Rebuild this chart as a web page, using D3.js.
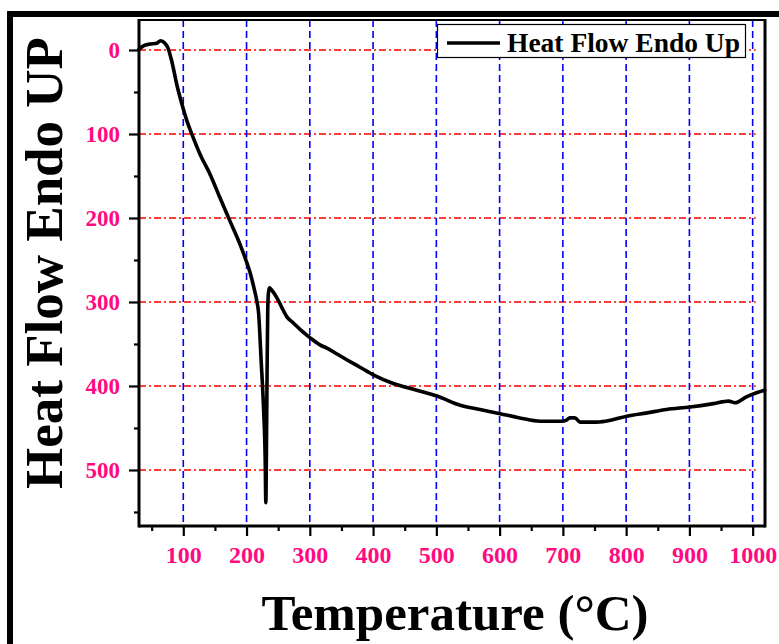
<!DOCTYPE html>
<html>
<head>
<meta charset="utf-8">
<script src="https://cdn.jsdelivr.net/npm/d3@7/dist/d3.min.js"></script>
<style>
  html, body { margin: 0; padding: 0; background: #fff; }
  svg { display: block; }
  text { font-family: "Liberation Serif", "Times New Roman", serif; font-weight: bold; }
</style>
</head>
<body>
<svg id="chart" width="779" height="644"></svg>
<script>
// DSC trace: temperature (°C) and heat flow
const temperature = [30, 37, 47, 58, 64, 71, 76, 82, 90, 98, 106, 114, 127, 143, 158, 174, 190, 198, 206, 212, 216, 219, 223, 227, 229.5, 230.5,
  231.5, 232.5, 233.5, 234.5, 236, 240, 248, 256, 264, 274, 285, 301, 316, 327, 343, 359, 380, 401, 432, 469, 501, 538, 569, 601,
  632, 664, 698, 705, 711, 719, 727, 753, 780, 801, 833, 864, 901, 938, 962, 972, 990, 1006, 1019];
const heatFlow = [-1, -5, -7, -8, -11, -8, -2, 14, 42, 65, 85, 101, 125, 149, 176, 204, 232, 248, 266, 284, 298, 313, 369, 429, 488, 539,
  470, 380, 310, 290, 283, 286, 295, 307, 318, 325, 333, 343, 351, 355, 362, 369, 378, 387, 397, 405, 412, 423, 428, 433,
  438, 442, 442, 441, 438, 438, 443, 443, 440, 436, 432, 428, 425, 421, 418, 420, 413, 408, 405];

const xMajorTicks = [100, 200, 300, 400, 500, 600, 700, 800, 900, 1000];
const xMinorTicks = [50, 150, 250, 350, 450, 550, 650, 750, 850, 950];
const yMajorTicks = [0, 100, 200, 300, 400, 500];
const yMinorTicks = [50, 150, 250, 350, 450, 550];

const xTitle = "Temperature (\u00B0C)";
const yTitle = "Heat Flow Endo UP";
const seriesName = "Heat Flow Endo Up";

const tickColor = "#ff0a80";
const svg = d3.select("#chart");

const plot = { left: 139, right: 765, top: 20, bottom: 526 };
const x = d3.scaleLinear().domain([30, 1019.5]).range([plot.left, plot.right]);
const y = d3.scaleLinear().domain([-35.7, 566.7]).range([plot.top, plot.bottom]);

// outer frame
svg.append("line").attr("x1", 7).attr("x2", 779).attr("y1", 14).attr("y2", 14)
  .attr("stroke", "#000").attr("stroke-width", 6);
svg.append("line").attr("x1", 10).attr("x2", 10).attr("y1", 11).attr("y2", 644)
  .attr("stroke", "#000").attr("stroke-width", 6);

// grid
svg.append("g").selectAll("line").data(yMajorTicks).join("line")
  .attr("x1", plot.left).attr("x2", x(1000) + 3)
  .attr("y1", d => y(d)).attr("y2", d => y(d))
  .attr("stroke", "#ff0000").attr("stroke-width", 1.6)
  .attr("stroke-dasharray", "7,3,2,3");
svg.append("g").selectAll("line").data(xMajorTicks).join("line")
  .attr("x1", d => x(d)).attr("x2", d => x(d))
  .attr("y1", plot.top).attr("y2", plot.bottom)
  .attr("stroke", "#0000ff").attr("stroke-width", 1.6)
  .attr("stroke-dasharray", "7,4");

// axes
function styleAxis(g) {
  g.select(".domain").remove();
  g.selectAll(".tick line").attr("stroke", "#000").attr("stroke-width", 2.2);
  g.selectAll(".tick text").attr("fill", tickColor);
}
svg.append("g").attr("transform", `translate(${plot.left},0)`)
  .call(d3.axisLeft(y).tickValues(yMajorTicks).tickSize(10).tickPadding(9).tickFormat(d3.format("d")))
  .call(styleAxis)
  .selectAll("text").style("font-size", "23px");
svg.append("g").attr("transform", `translate(${plot.left},0)`)
  .call(d3.axisLeft(y).tickValues(yMinorTicks).tickSize(5).tickFormat(""))
  .call(styleAxis);
svg.append("g").attr("transform", `translate(0,${plot.bottom})`)
  .call(d3.axisBottom(x).tickValues(xMajorTicks).tickSize(10).tickPadding(10).tickFormat(d3.format("d")))
  .call(styleAxis)
  .selectAll("text").style("font-size", "24px");
svg.append("g").attr("transform", `translate(0,${plot.bottom})`)
  .call(d3.axisBottom(x).tickValues(xMinorTicks).tickSize(5).tickFormat(""))
  .call(styleAxis);

// plot frame
svg.append("line").attr("x1", plot.left).attr("x2", plot.right).attr("y1", plot.top).attr("y2", plot.top)
  .attr("stroke", "#000").attr("stroke-width", 2);
svg.append("line").attr("x1", plot.left).attr("x2", plot.left).attr("y1", plot.top - 1).attr("y2", plot.bottom + 1.5)
  .attr("stroke", "#000").attr("stroke-width", 3);
svg.append("line").attr("x1", plot.right).attr("x2", plot.right).attr("y1", plot.top - 1).attr("y2", plot.bottom + 1.5)
  .attr("stroke", "#000").attr("stroke-width", 3);
svg.append("line").attr("x1", plot.left).attr("x2", plot.right).attr("y1", plot.bottom).attr("y2", plot.bottom)
  .attr("stroke", "#000").attr("stroke-width", 3);

// curve
const points = temperature.map((t, i) => [t, heatFlow[i]]);
svg.append("path").datum(points)
  .attr("fill", "none").attr("stroke", "#000").attr("stroke-width", 3.6)
  .attr("stroke-linejoin", "round").attr("stroke-linecap", "round")
  .attr("d", d3.line().x(d => x(d[0])).y(d => y(d[1])).curve(d3.curveMonotoneX));

// legend
const legend = svg.append("g");
legend.append("rect").attr("x", 437.5).attr("y", 24.5).attr("width", 308).attr("height", 33)
  .attr("fill", "#fff").attr("stroke", "#000").attr("stroke-width", 1.2);
legend.append("line").attr("x1", 447).attr("x2", 500).attr("y1", 43).attr("y2", 43)
  .attr("stroke", "#000").attr("stroke-width", 3.5);
legend.append("text").attr("x", 507).attr("y", 52).style("font-size", "27.5px").text(seriesName);

// axis titles
svg.append("text").attr("x", 455).attr("y", 630).attr("text-anchor", "middle")
  .style("font-size", "51px").text(xTitle);
svg.append("text").attr("transform", "translate(62,263) rotate(-90)").attr("text-anchor", "middle")
  .style("font-size", "53px").text(yTitle);
</script>
</body>
</html>
